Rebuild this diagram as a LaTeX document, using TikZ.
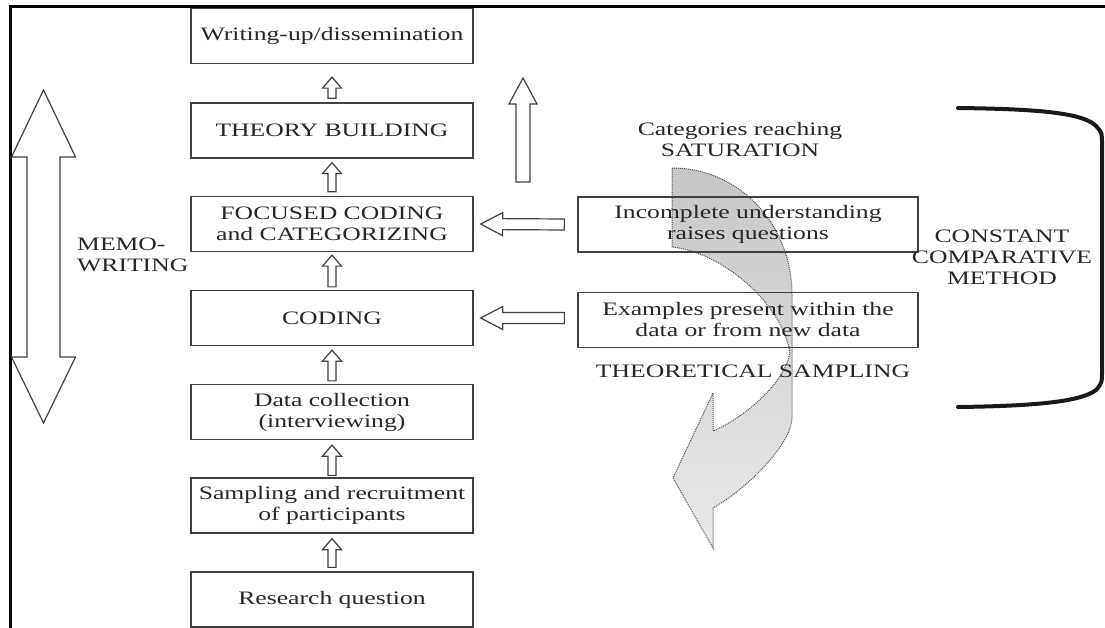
\documentclass[tikz,border=0pt]{standalone}
\usepackage{fontspec}
\setmainfont{Liberation Serif}[FakeStretch=1.35]
\usetikzlibrary{calc}

% hollow block arrow from #1 to #2: shaft half width #3, head half width #4, head length #5
\newcommand\hollowarrow[5]{%
  \coordinate (ha-from) at #1;
  \coordinate (ha-tip) at #2;
  \coordinate (ha-base) at ($(ha-tip)!#5!(ha-from)$);
  \draw[blockarrow] ($(ha-from)!#3!90:(ha-tip)$) -- ($(ha-base)!#3!90:(ha-tip)$)
    -- ($(ha-base)!#4!90:(ha-tip)$) -- (ha-tip) -- ($(ha-base)!#4!-90:(ha-tip)$)
    -- ($(ha-base)!#3!-90:(ha-tip)$) -- ($(ha-from)!#3!-90:(ha-tip)$) -- cycle;
}

\begin{document}
\begin{tikzpicture}[x=1pt,y=-1pt,
  every node/.style={font=\fontsize{19}{21}\selectfont, text=black!85},
  box/.style={draw=black!75, line width=1.3pt, minimum width=282pt, minimum height=55pt, align=center, inner sep=0pt},
  sidebox/.style={box, minimum width=340pt},
  caption/.style={align=center, inner sep=0pt},
  blockarrow/.style={draw=black!75, line width=1.2pt, fill=white, line join=miter},
  frame/.style={line width=3pt, draw=black},
  bracket/.style={line width=4pt, draw=black!90, line cap=round},
  sweep/.style={draw=black!70, line width=1pt, dash pattern=on 1pt off 1pt, top color=black!22, bottom color=black!9}
]
\useasboundingbox (0,0) rectangle (1105,628);

% outer frame
\draw[frame] (1105,7) -- (10,7) -- (10,628);

% theoretical sampling sweep (behind the side boxes)
\path[sweep] (672,168) .. controls (740,168) and (792,225) .. (792,295)
  -- (792,417) .. controls (792,445) and (745,490) .. (713,508)
  -- (713,548) -- (673,478) -- (713,393) -- (713,431)
  .. controls (740,420) and (785,385) .. (790,352)
  .. controls (780,300) and (720,252) .. (672,247) -- cycle;

% main process column
\node[box] (write)    at (332,36)    {Writing-up/dissemination};
\node[box] (theory)   at (332,130.5) {THEORY BUILDING};
\node[box] (focused)  at (332,224)   {FOCUSED CODING\\and CATEGORIZING};
\node[box] (coding)   at (332,318)   {CODING};
\node[box] (datacol)  at (332,412)   {Data collection\\(interviewing)};
\node[box] (sampling) at (332,505.5) {Sampling and recruitment\\of participants};
\node[box] (research) at (332,599.5) {Research question};

% side boxes
\node[sidebox] (incomplete) at (748,224.5) {Incomplete understanding\\raises questions};
\node[sidebox] (examples)   at (748,320)   {Examples present within the\\data or from new data};

% labels
\node[caption] (saturation) at (740,140) {Categories reaching\\SATURATION};
\node[caption] (tsampling)  at (753,371) {THEORETICAL SAMPLING};
\node[caption, align=left, anchor=west] (memo) at (77,255) {MEMO-\\WRITING};
\node[caption] (ccm) at (1002,257) {CONSTANT\\COMPARATIVE\\METHOD};

% upward arrows between the stages
\hollowarrow{($(theory.north)+(0,-4)$)}{($(write.south)+(0,13)$)}{4pt}{9.5pt}{11pt}
\hollowarrow{($(focused.north)+(0,-4)$)}{($(theory.south)+(0,4)$)}{4pt}{9.5pt}{11pt}
\hollowarrow{($(coding.north)+(0,-3)$)}{($(focused.south)+(0,3)$)}{4pt}{9.5pt}{11pt}
\hollowarrow{($(datacol.north)+(0,-3)$)}{($(coding.south)+(0,4)$)}{4pt}{9.5pt}{11pt}
\hollowarrow{($(sampling.north)+(0,-2)$)}{($(datacol.south)+(0,5)$)}{4pt}{9.5pt}{11pt}
\hollowarrow{($(research.north)+(0,-4)$)}{($(sampling.south)+(0,5)$)}{4pt}{9.5pt}{11pt}

% feedback arrows from the side boxes
\hollowarrow{($(incomplete.west)+(-13,0)$)}{($(focused.east)+(7,0)$)}{5.5pt}{11.5pt}{22pt}
\hollowarrow{($(examples.west |- coding.east)+(-13,0)$)}{($(coding.east)+(7,0)$)}{5.5pt}{11.5pt}{22pt}

% large upward arrow
\draw[blockarrow] (516,182) -- (516,104) -- (509,104) -- (523,78) -- (537,104)
  -- (530,104) -- (530,182) -- cycle;

% memo-writing double arrow
\draw[blockarrow] (27,157) -- (11.5,157) -- (43.5,90) -- (75.5,157) -- (60,157)
  -- (60,357) -- (75.5,357) -- (43.5,423) -- (11.5,357) -- (27,357) -- cycle;

% bracket of the constant comparative method
\draw[bracket] (958,108) .. controls (1040,109) and (1085,113) .. (1097,127)
  .. controls (1102,133) .. (1102,145) -- (1102,370)
  .. controls (1102,383) .. (1096,390)
  .. controls (1082,401) and (1040,406) .. (958,407);
\end{tikzpicture}
\end{document}
